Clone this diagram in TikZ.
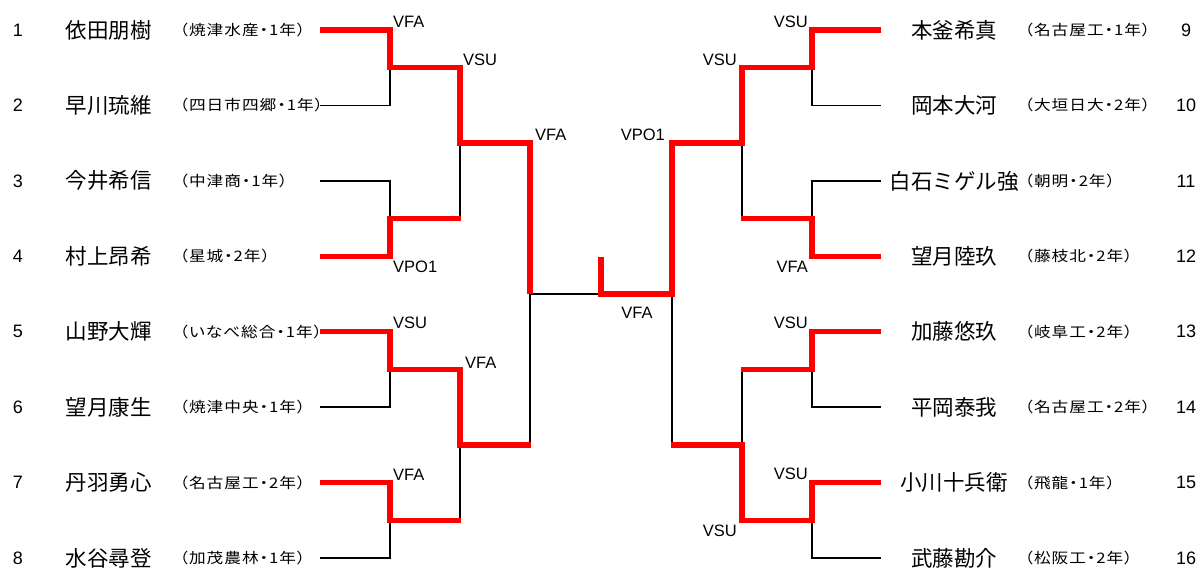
\documentclass[tikz,border=0pt]{standalone}
\usepackage{fontspec}
\usepackage{graphicx}
\setmainfont{Liberation Sans}
\newfontfamily\jp{Noto Sans CJK JP}
\newfontfamily\jpp[RawFeature=+palt,LetterSpace=6]{Noto Sans CJK JP}
\newcommand{\nm}[1]{{\jp\fontsize{21.5}{24}\selectfont #1}}
\newcommand{\sch}[1]{\scalebox{1.15}[1]{\jpp\fontsize{14.5}{16}\selectfont #1}}
\tikzset{
  blk/.style={line width=1.8pt, black},
  winr/.style={line width=5.5pt, red},
  numlbl/.style={font=\fontsize{18}{20}\selectfont, inner sep=0pt},
  pname/.style={inner sep=0pt},
  pschool/.style={inner sep=0pt},
  reslbl/.style={font=\fontsize{16.5}{18}\selectfont, inner sep=0pt},
}
\begin{document}
\begin{tikzpicture}[x=1pt,y=-1pt]
\useasboundingbox (0,0) rectangle (1200,568);
% row coordinates
\foreach \i/\y in {1/30,2/105.4,3/180.9,4/256.3,5/331.7,6/407.1,7/482.6,8/558}{
  \coordinate (Ls\i) at (320,\y);
  \coordinate (Lv\i) at (390,\y);
  \coordinate (Rs\i) at (881,\y);
  \coordinate (Rv\i) at (812,\y);
}
\foreach \j/\y in {1/67.7,2/218.6,3/369.4,4/520.3}{
  \coordinate (Lm\j) at (390,\y);
  \coordinate (Ln\j) at (460,\y);
  \coordinate (Rm\j) at (812,\y);
  \coordinate (Rn\j) at (742,\y);
}
\foreach \k/\y in {1/143.15,2/444.85}{
  \coordinate (Lq\k) at (460,\y);
  \coordinate (Lr\k) at (530,\y);
  \coordinate (Rq\k) at (742,\y);
  \coordinate (Rr\k) at (672,\y);
}
\coordinate (Lc) at (530,294);
\coordinate (Rc) at (672,294);
\coordinate (Cc) at (601,294);
\coordinate (Ct) at (601,257);

% black bracket
\foreach \a/\b/\m in {1/2/1,3/4/2,5/6/3,7/8/4}{
  \draw[blk] (Ls\a) -- (Lv\a) -- (Lv\b) -- (Ls\b);
  \draw[blk] (Lm\m) -- (Ln\m);
  \draw[blk] (Rs\a) -- (Rv\a) -- (Rv\b) -- (Rs\b);
  \draw[blk] (Rm\m) -- (Rn\m);
}
\draw[blk] (Ln1) -- (Ln2);
\draw[blk] (Ln3) -- (Ln4);
\draw[blk] (Rn1) -- (Rn2);
\draw[blk] (Rn3) -- (Rn4);
\draw[blk] (Lq1) -- (Lr1) -- (Lr2) -- (Lq2);
\draw[blk] (Rq1) -- (Rr1) -- (Rr2) -- (Rq2);
\draw[blk] (Lc) -- (Cc) -- (Rc);

% winners
\draw[winr] (Ls1) -- (Lv1) -- (Lm1) -- (Ln1) -- (Lq1) -- (Lr1) -- (Lc);
\draw[winr] (Ls4) -- (Lv4) -- (Lm2) -- ([xshift=1pt]Ln2);
\draw[winr] (Ls5) -- (Lv5) -- (Lm3) -- (Ln3) -- (Lq2) -- ([xshift=1pt]Lr2);
\draw[winr] (Ls7) -- (Lv7) -- (Lm4) -- ([xshift=1pt]Ln4);
\draw[winr] (Rs1) -- (Rv1) -- (Rm1) -- (Rn1) -- (Rq1) -- (Rr1) -- (Rc) -- (Cc) -- (Ct);
\draw[winr] (Rs4) -- (Rv4) -- (Rm2) -- ([xshift=-1pt]Rn2);
\draw[winr] (Rs5) -- (Rv5) -- (Rm3) -- ([xshift=-1pt]Rn3);
\draw[winr] (Rs7) -- (Rv7) -- (Rm4) -- (Rn4) -- (Rq2) -- ([xshift=-1pt]Rr2);

% left players
\foreach \i/\y/\n/\s in {
  1/30/依田朋樹/（焼津水産・1年）,
  2/105.4/早川琉維/（四日市四郷・1年）,
  3/180.9/今井希信/（中津商・1年）,
  4/256.3/村上昂希/（星城・2年）,
  5/331.7/山野大輝/（いなべ総合・1年）,
  6/407.1/望月康生/（焼津中央・1年）,
  7/482.6/丹羽勇心/（名古屋工・2年）,
  8/558/水谷尋登/（加茂農林・1年）}{
  \node[numlbl] (num\i) at (18,\y) {\i};
  \node[pname] (nm\i) at (108.5,\y) {\nm{\n}};
  \node[pschool, anchor=west] (sc\i) at (179.5,\y) {\sch{\s}};
}
% right players
\foreach \i/\y/\n/\s in {
  9/30/本釜希真/（名古屋工・1年）,
  10/105.4/岡本大河/（大垣日大・2年）,
  11/180.9/白石ミゲル強/（朝明・2年）,
  12/256.3/望月陸玖/（藤枝北・2年）,
  13/331.7/加藤悠玖/（岐阜工・2年）,
  14/407.1/平岡泰我/（名古屋工・2年）,
  15/482.6/小川十兵衛/（飛龍・1年）,
  16/558/武藤勘介/（松阪工・2年）}{
  \node[numlbl] (num\i) at (1186,\y) {\i};
  \node[pname] (nm\i) at (954,\y) {\nm{\n}};
  \node[pschool, anchor=west] (sc\i) at (1024.5,\y) {\sch{\s}};
}

% result labels
\node[reslbl, anchor=west] (r1) at (393,22) {VFA};
\node[reslbl, anchor=west] (r2) at (393,267) {VPO1};
\node[reslbl, anchor=west] (r3) at (393,323) {VSU};
\node[reslbl, anchor=west] (r4) at (393,475) {VFA};
\node[reslbl, anchor=west] (r5) at (463,60) {VSU};
\node[reslbl, anchor=west] (r6) at (465,363) {VFA};
\node[reslbl, anchor=west] (r7) at (535,135) {VFA};
\node[reslbl] (r8) at (637,313) {VFA};
\node[reslbl, anchor=east] (r9) at (808,22) {VSU};
\node[reslbl, anchor=east] (r10) at (808,267) {VFA};
\node[reslbl, anchor=east] (r11) at (808,323) {VSU};
\node[reslbl, anchor=east] (r12) at (808,474) {VSU};
\node[reslbl, anchor=east] (r13) at (737,60) {VSU};
\node[reslbl, anchor=east] (r14) at (737,531) {VSU};
\node[reslbl, anchor=east] (r15) at (665,135) {VPO1};
\end{tikzpicture}
\end{document}
